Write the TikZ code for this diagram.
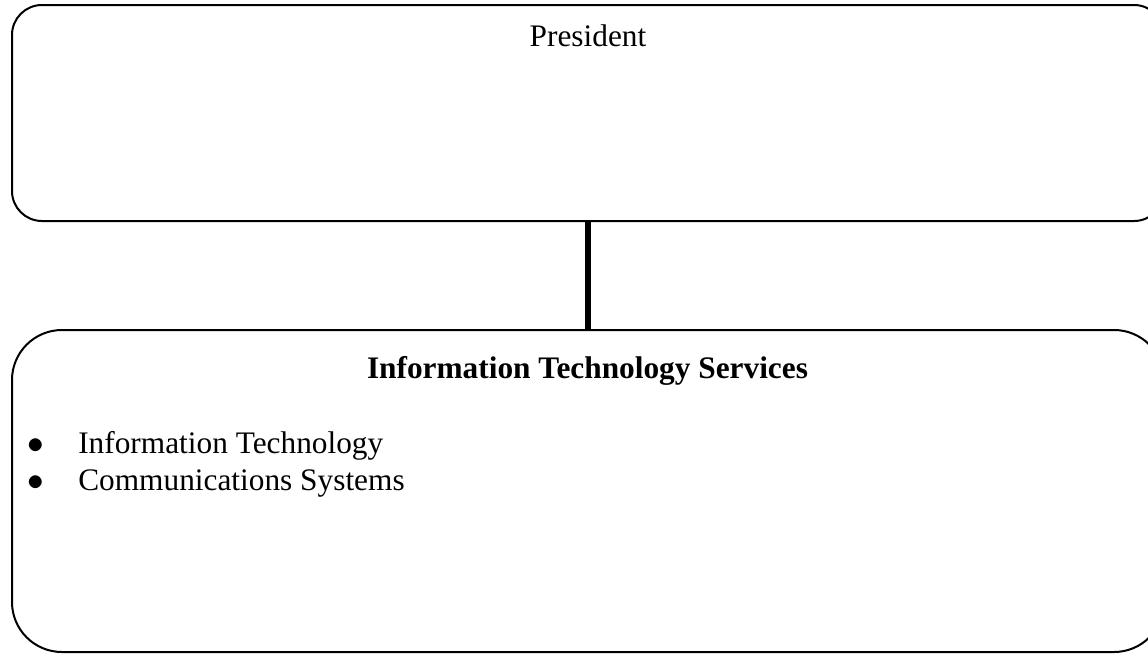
\documentclass[tikz,border=0pt]{standalone}
\usepackage{fontspec}
\setmainfont{Liberation Serif}
\usepackage{tikz}
\usetikzlibrary{positioning}

\begin{document}
\begin{tikzpicture}[x=0.75pt,y=0.75pt,yscale=-1,xscale=1,
  box/.style={draw, line width=1.5pt, inner sep=0pt, outer sep=0pt, minimum width=864pt},
  txt/.style={inner sep=0pt, font=\fontsize{23.5}{28}\selectfont}]
\useasboundingbox (0,0) rectangle (1148,653);

%Shape: Rounded Rect
\node [box, rounded corners=22.5pt, minimum height=162pt] (pres) at (588,113) {};
%Shape: Rounded Rect
\node [box, rounded corners=37.5pt, minimum height=241.5pt] (its) at (588,491) {};
%Straight Lines
\draw [line width=4.5pt] (pres.south) -- (its.north);

% Text Node
\node [txt, anchor=base] (prestitle) at (588,46) {President};
% Text Node
\node [txt, anchor=base, font=\fontsize{23.5}{28}\selectfont\bfseries] (itstitle) at (587.5,378) {Information Technology Services};
% Text Node
\node [txt, anchor=base] (bulla) at (36,453) {$\bullet$};
\node [txt, anchor=base west] (itema) at (78,453) {Information Technology};
% Text Node
\node [txt, anchor=base] (bullb) at (36,490) {$\bullet$};
\node [txt, anchor=base west] (itemb) at (78,490) {Communications Systems};

\end{tikzpicture}
\end{document}
